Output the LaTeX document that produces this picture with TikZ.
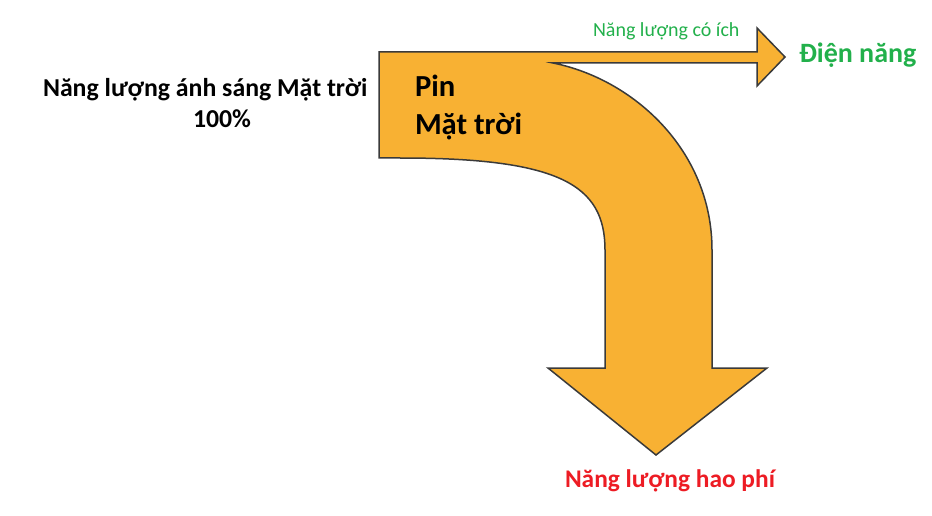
\documentclass[tikz,border=0pt]{standalone}
\usepackage{fontspec}
\setmainfont{Carlito}
\definecolor{arrowfill}{HTML}{F8B133}
\definecolor{arrowline}{HTML}{3A3A3A}
\definecolor{greentxt}{HTML}{22B04B}
\definecolor{redtxt}{HTML}{ED1C24}
\tikzset{
  lbl/.style={anchor=base west, inner sep=0pt, outer sep=0pt},
  bigarrow/.style={fill=arrowfill, draw=arrowline, line width=1.5pt, line join=miter}
}
\begin{document}
\begin{tikzpicture}[x=1pt,y=-1pt]
\useasboundingbox (0,0) rectangle (932,516);
\path[bigarrow] (379,52) -- (757,52) -- (757,28) -- (785,57) -- (757,86) -- (757,63) -- (553,63)
  .. controls (633,79) and (712,150) .. (712,250) -- (712,368) -- (767,368) -- (656,455) -- (548,368) -- (605,368) -- (605,250)
  .. controls (605,185) and (560,158) .. (400,158) -- (379,158) -- cycle;
\node[lbl] (src) at (43,97) {\fontsize{25.8}{30}\selectfont\bfseries Năng lượng ánh sáng Mặt trời};
\node[lbl] (pct) at (193,128) {\fontsize{25.8}{30}\selectfont\bfseries 100\%};
\node[lbl] (pin) at (415,97) {\fontsize{30.6}{36}\selectfont\bfseries Pin};
\node[lbl] (mt) at (415,135) {\fontsize{30.6}{36}\selectfont\bfseries Mặt trời};
\node[lbl, text=greentxt] (useful) at (593,37) {\fontsize{20}{24}\selectfont Năng lượng có ích};
\node[lbl, text=greentxt] (elec) at (799,63) {\fontsize{28}{32}\selectfont\bfseries Điện năng};
\node[lbl, text=redtxt] (waste) at (565,487) {\fontsize{25.4}{30}\selectfont\bfseries Năng lượng hao phí};
\end{tikzpicture}
\end{document}
